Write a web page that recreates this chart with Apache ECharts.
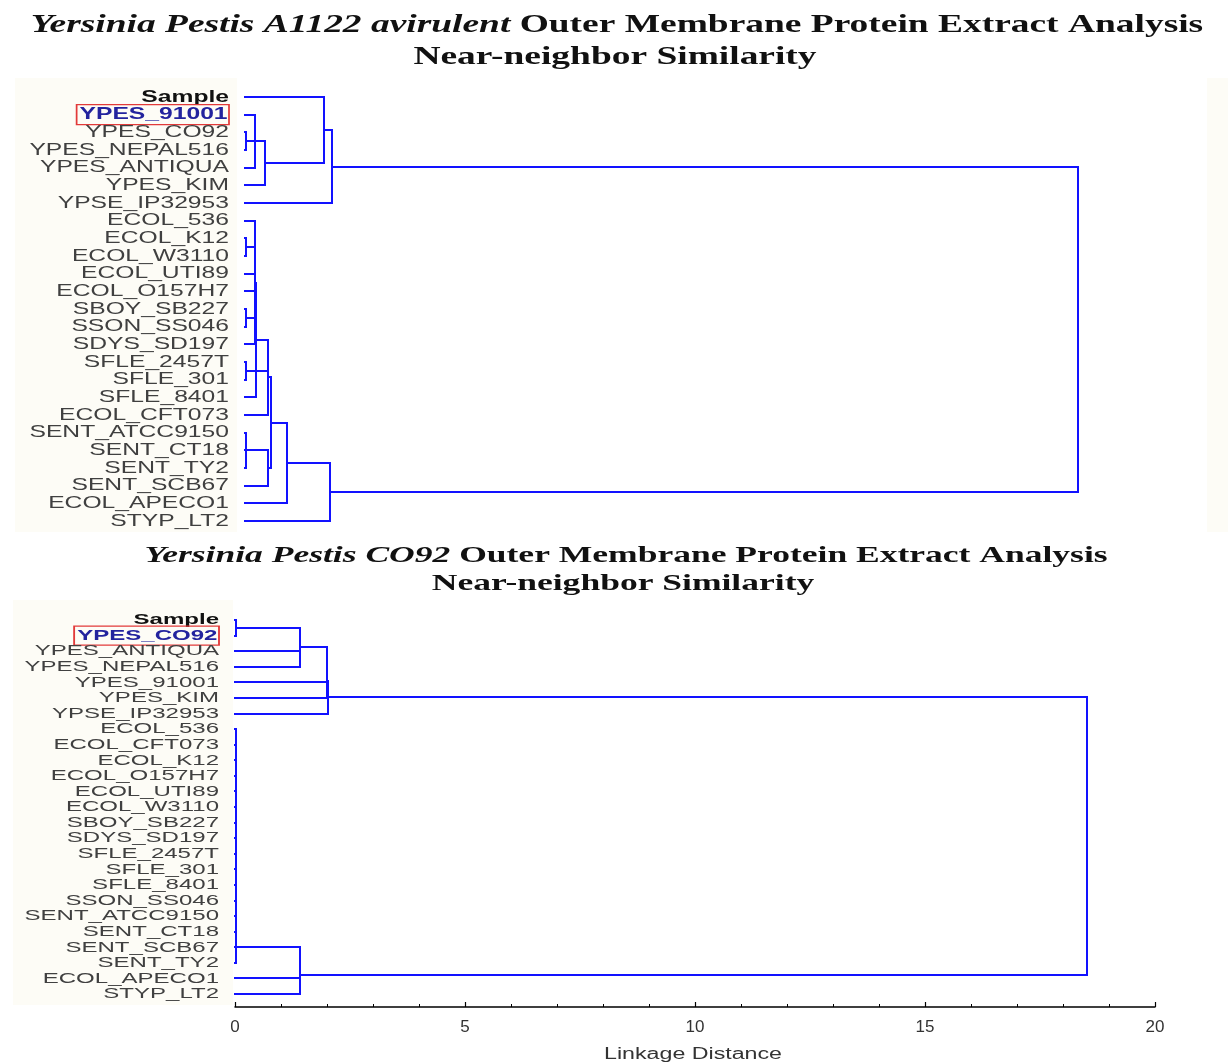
<!DOCTYPE html>
<html>
<head>
<meta charset="utf-8">
<script src="https://cdn.jsdelivr.net/npm/echarts@6/dist/echarts.min.js"></script>
<style>
html,body{margin:0;padding:0;background:#ffffff;}
#chart{width:1228px;height:1063px;}
</style>
</head>
<body>
<div id="chart"></div>
<script>
// ---------------- DATA ----------------
const topLeaves = ['Sample','YPES_91001','YPES_CO92','YPES_NEPAL516','YPES_ANTIQUA','YPES_KIM','YPSE_IP32953',
  'ECOL_536','ECOL_K12','ECOL_W3110','ECOL_UTI89','ECOL_O157H7','SBOY_SB227','SSON_SS046','SDYS_SD197',
  'SFLE_2457T','SFLE_301','SFLE_8401','ECOL_CFT073','SENT_ATCC9150','SENT_CT18','SENT_TY2','SENT_SCB67',
  'ECOL_APECO1','STYP_LT2'];
const topHighlight = 'YPES_91001';
// [node id, linkage distance, children]
const topMerges = [
  ['N1', 0.03, ['YPES_CO92','YPES_NEPAL516']],
  ['N2', 0.22, ['YPES_91001','N1','YPES_ANTIQUA']],
  ['N3', 0.43, ['N2','YPES_KIM']],
  ['N4', 1.72, ['Sample','N3']],
  ['N5', 1.90, ['N4','YPSE_IP32953']],
  ['a', 0.03, ['ECOL_K12','ECOL_W3110']],
  ['b', 0.03, ['SBOY_SB227','SSON_SS046']],
  ['c', 0.03, ['SFLE_2457T','SFLE_301']],
  ['s', 0.03, ['SENT_ATCC9150','SENT_CT18','SENT_TY2']],
  ['d1', 0.22, ['ECOL_536','a','ECOL_UTI89','ECOL_O157H7','b','SDYS_SD197']],
  ['d', 0.24, ['d1','SFLE_8401']],
  ['h', 0.50, ['d','c','ECOL_CFT073']],
  ['i', 0.50, ['s','SENT_SCB67']],
  ['f', 0.57, ['h','i']],
  ['g', 0.91, ['f','ECOL_APECO1']],
  ['k', 1.85, ['g','STYP_LT2']],
  ['root', 18.1, ['N5','k']]
];

const bottomLeaves = ['Sample','YPES_CO92','YPES_ANTIQUA','YPES_NEPAL516','YPES_91001','YPES_KIM','YPSE_IP32953',
  'ECOL_536','ECOL_CFT073','ECOL_K12','ECOL_O157H7','ECOL_UTI89','ECOL_W3110','SBOY_SB227','SDYS_SD197',
  'SFLE_2457T','SFLE_301','SFLE_8401','SSON_SS046','SENT_ATCC9150','SENT_CT18','SENT_SCB67','SENT_TY2',
  'ECOL_APECO1','STYP_LT2'];
const bottomHighlight = 'YPES_CO92';
const bottomMerges = [
  ['m1', 0.02, ['Sample','YPES_CO92']],
  ['m2', 1.41, ['m1','YPES_ANTIQUA','YPES_NEPAL516']],
  ['m3', 2.00, ['m2','YPES_91001']],
  ['m4', 2.01, ['m3','YPES_KIM']],
  ['m5', 2.02, ['m4','YPSE_IP32953']],
  ['q1', 0.02, ['ECOL_536','ECOL_CFT073']],
  ['q2', 0.02, ['q1','ECOL_K12']],
  ['q3', 0.02, ['q2','ECOL_O157H7']],
  ['q4', 0.02, ['q3','ECOL_UTI89']],
  ['q5', 0.02, ['q4','ECOL_W3110']],
  ['q6', 0.02, ['q5','SBOY_SB227']],
  ['q7', 0.02, ['q6','SDYS_SD197']],
  ['q8', 0.02, ['q7','SFLE_2457T']],
  ['q9', 0.02, ['q8','SFLE_301']],
  ['q10', 0.02, ['q9','SFLE_8401']],
  ['q11', 0.02, ['q10','SSON_SS046']],
  ['q12', 0.02, ['q11','SENT_ATCC9150']],
  ['q13', 0.02, ['q12','SENT_CT18']],
  ['q14', 0.02, ['q13','SENT_SCB67']],
  ['q15', 0.02, ['q14','SENT_TY2']],
  ['r1', 1.41, ['q15','STYP_LT2']],
  ['r2', 1.42, ['r1','ECOL_APECO1']],
  ['root', 18.52, ['m5','r2']]
];

const xTicks = [0, 5, 10, 15, 20];
const topTitle1Italic = 'Yersinia Pestis A1122 avirulent';
const topTitle1Rest = ' Outer Membrane Protein Extract Analysis';
const bottomTitle1Italic = 'Yersinia Pestis CO92';
const bottomTitle1Rest = ' Outer Membrane Protein Extract Analysis';
const subTitle = 'Near-neighbor Similarity';
const axisName = 'Linkage Distance';

// ---------------- BUILD ----------------
function buildSegments(leaves, merges) {
  const pos = {};
  leaves.forEach((n, i) => { pos[n] = { x: 0, y: i }; });
  const segs = [];
  merges.forEach(([id, h, kids]) => {
    const ys = kids.map(k => pos[k].y);
    const y0 = Math.min.apply(null, ys), y1 = Math.max.apply(null, ys);
    kids.forEach(k => segs.push([pos[k].x, pos[k].y, h, pos[k].y]));
    segs.push([h, y0, h, y1]);
    pos[id] = { x: h, y: (y0 + y1) / 2 };
  });
  return segs;
}

const LINK = '#1212ff';
function linkSeries(idx, segs) {
  return {
    type: 'custom', xAxisIndex: idx, yAxisIndex: idx, z: 3,
    data: segs,
    renderItem: function (params, api) {
      const p1 = api.coord([api.value(0), api.value(1)]);
      const p2 = api.coord([api.value(2), api.value(3)]);
      return { type: 'line',
        shape: { x1: Math.round(p1[0]), y1: Math.round(p1[1]), x2: Math.round(p2[0]), y2: Math.round(p2[1]) },
        style: { stroke: LINK, lineWidth: 2, lineCap: 'square' } };
    }
  };
}

function labelSeries(idx, leaves, highlight, fontSize, sx) {
  return {
    type: 'custom', xAxisIndex: idx, yAxisIndex: idx, z: 4, clip: false,
    data: leaves.map((n, i) => [0, i]),
    renderItem: function (params, api) {
      const name = leaves[params.dataIndex];
      const p = api.coord([api.value(0), api.value(1)]);
      const st = { text: name, x: 0, y: 0, align: 'right', verticalAlign: 'middle',
        fontFamily: '"Liberation Sans", Arial, sans-serif', fontSize: fontSize, fill: '#404040' };
      if (name === 'Sample') { st.fontWeight = 'bold'; st.fill = '#111111'; }
      if (name === highlight) {
        st.fill = '#23239e'; st.fontWeight = 'bold';
        st.borderColor = '#e23a3a'; st.borderWidth = 1.2; st.padding = [2, 1, 1, 2];
      }
      return { type: 'text', x: p[0] - 16, y: p[1], scaleX: sx, style: st };
    }
  };
}

function titleText(x, y, italic, rest, size, sx) {
  return { type: 'text', x: x, y: y, scaleX: sx, z: 10,
    style: { text: '{i|' + italic + '}' + rest, align: 'center', verticalAlign: 'middle',
      fontFamily: '"Liberation Serif", "Times New Roman", serif', fontWeight: 'bold', fontSize: size, fill: '#111',
      rich: { i: { fontStyle: 'italic', fontWeight: 'bold', fontSize: size,
        fontFamily: '"Liberation Serif", "Times New Roman", serif', fill: '#111' } } } };
}
function plainText(x, y, text, font, size, weight, sx, color) {
  return { type: 'text', x: x, y: y, scaleX: sx, z: 10,
    style: { text: text, align: 'center', verticalAlign: 'middle', fontFamily: font,
      fontWeight: weight, fontSize: size, fill: color } };
}

const chart = echarts.init(document.getElementById('chart'), null, { renderer: 'canvas' });
const serif = '"Liberation Serif", "Times New Roman", serif';
const sans = '"Liberation Sans", Arial, sans-serif';
const cream = '#fdfcf6';

chart.setOption({
  backgroundColor: '#ffffff',
  animation: false,
  graphic: [
    { type: 'rect', shape: { x: 15, y: 78, width: 222, height: 454 }, style: { fill: cream }, z: -10 },
    { type: 'rect', shape: { x: 1207, y: 78, width: 21, height: 454 }, style: { fill: cream }, z: -10 },
    { type: 'rect', shape: { x: 13, y: 600, width: 220, height: 405 }, style: { fill: cream }, z: -10 },
    titleText(617, 25, topTitle1Italic, topTitle1Rest, 26, 1.44),
    plainText(615, 57, subTitle, serif, 26, 'bold', 1.44, '#111'),
    titleText(626, 556, bottomTitle1Italic, bottomTitle1Rest, 24, 1.48),
    plainText(623, 584, subTitle, serif, 24, 'bold', 1.48, '#111'),
    plainText(693, 1055, axisName, sans, 16, 'normal', 1.45, '#333')
  ],
  grid: [
    { left: 245, top: 97, width: 920, height: 424 },
    { left: 235, top: 620, width: 920, height: 374 }
  ],
  xAxis: [
    { gridIndex: 0, type: 'value', min: 0, max: 20, show: false },
    { gridIndex: 1, type: 'value', position: 'bottom', min: xTicks[0], max: xTicks[xTicks.length - 1], interval: 5, offset: 13,
      axisLine: { show: true, onZero: false, lineStyle: { color: '#000', width: 1.5 } },
      axisTick: { show: true, inside: true, length: 5, lineStyle: { color: '#000', width: 1.2 } },
      minorTick: { show: true, splitNumber: 5, length: 3, lineStyle: { color: '#000', width: 1 } },
      splitLine: { show: false },
      axisLabel: { color: '#333', fontSize: 17, fontFamily: sans, margin: 12,
        formatter: v => (xTicks.indexOf(v) >= 0 ? String(v) : '') } }
  ],
  yAxis: [
    { gridIndex: 0, type: 'value', min: 0, max: topLeaves.length - 1, inverse: true, show: false },
    { gridIndex: 1, type: 'value', min: 0, max: bottomLeaves.length - 1, inverse: true, show: false }
  ],
  series: [
    linkSeries(0, buildSegments(topLeaves, topMerges)),
    labelSeries(0, topLeaves, topHighlight, 17, 1.45),
    linkSeries(1, buildSegments(bottomLeaves, bottomMerges)),
    labelSeries(1, bottomLeaves, bottomHighlight, 15.5, 1.55)
  ]
});
</script>
</body>
</html>
